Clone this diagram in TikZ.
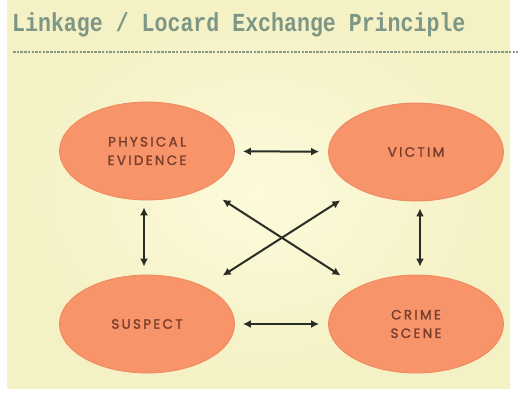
\documentclass[tikz,border=0pt]{standalone}
\usepackage{fontspec}
\usetikzlibrary{arrows.meta,shapes.geometric}
\newfontfamily\titlefont{Liberation Mono}
\newfontfamily\elfont[LetterSpace=17,FakeBold=1.6]{Poppins}
\definecolor{bgin}{HTML}{FCFADB}
\definecolor{bgout}{HTML}{F4F1C4}
\definecolor{titlecol}{HTML}{7E9686}
\definecolor{dashcol}{HTML}{8A9886}
\definecolor{elfill}{HTML}{F7946A}
\definecolor{eledge}{HTML}{F0885E}
\definecolor{eltext}{HTML}{7A3E2C}
\definecolor{arrcol}{HTML}{2A2D23}
\tikzset{
  blob/.style={ellipse, fill=elfill, draw=eledge, line width=0.8pt,
    minimum width=175pt, minimum height=98pt, inner sep=0pt,
    font=\elfont\fontsize{13.5}{18.5}\selectfont, text=eltext, align=center},
  link/.style={arrcol, line width=2pt, {Latex[length=8pt,width=8pt]}-{Latex[length=8pt,width=8pt]}},
}
\begin{document}
\begin{tikzpicture}[x=1pt,y=-1pt]
\useasboundingbox (0,0) rectangle (518,394);
\fill[white] (0,0) rectangle (518,394);
\shade[inner color=bgin, outer color=bgout] (7,0) rectangle (510,388);
\node[anchor=base west, inner sep=0pt, text=titlecol] (title) at (12,31)
  {\scalebox{0.83}[1]{\titlefont\bfseries\fontsize{26}{30}\selectfont Linkage / Locard Exchange Principle}};
\coordinate (dl) at (13,52);
\coordinate (dr) at (518,52);
\draw[dashcol, line width=2.2pt, dash pattern=on 2.5pt off 1.2pt] (dl) -- (dr);
\node[blob] (pe) at (147,151) {PHYSICAL\\EVIDENCE};
\node[blob] (vi) at (416,152) {VICTIM};
\node[blob] (su) at (147,324) {SUSPECT};
\node[blob] (cs) at (416,324) {CRIME\\SCENE};
\draw[link, shorten <=8pt, shorten >=9pt] (pe) -- (vi);
\draw[link, shorten <=8pt, shorten >=9pt] (su) -- (cs);
\draw[link, shorten <=7pt, shorten >=8pt] (pe.south -| 144,0) -- (su.north -| 144,0);
\draw[link, shorten <=7pt, shorten >=8pt] (vi.south -| 420,0) -- (cs.north -| 420,0);
\draw[link, shorten <=21pt, shorten >=21pt] (pe) -- (cs);
\draw[link, shorten <=21pt, shorten >=21pt] (su) -- (vi);
\end{tikzpicture}
\end{document}
